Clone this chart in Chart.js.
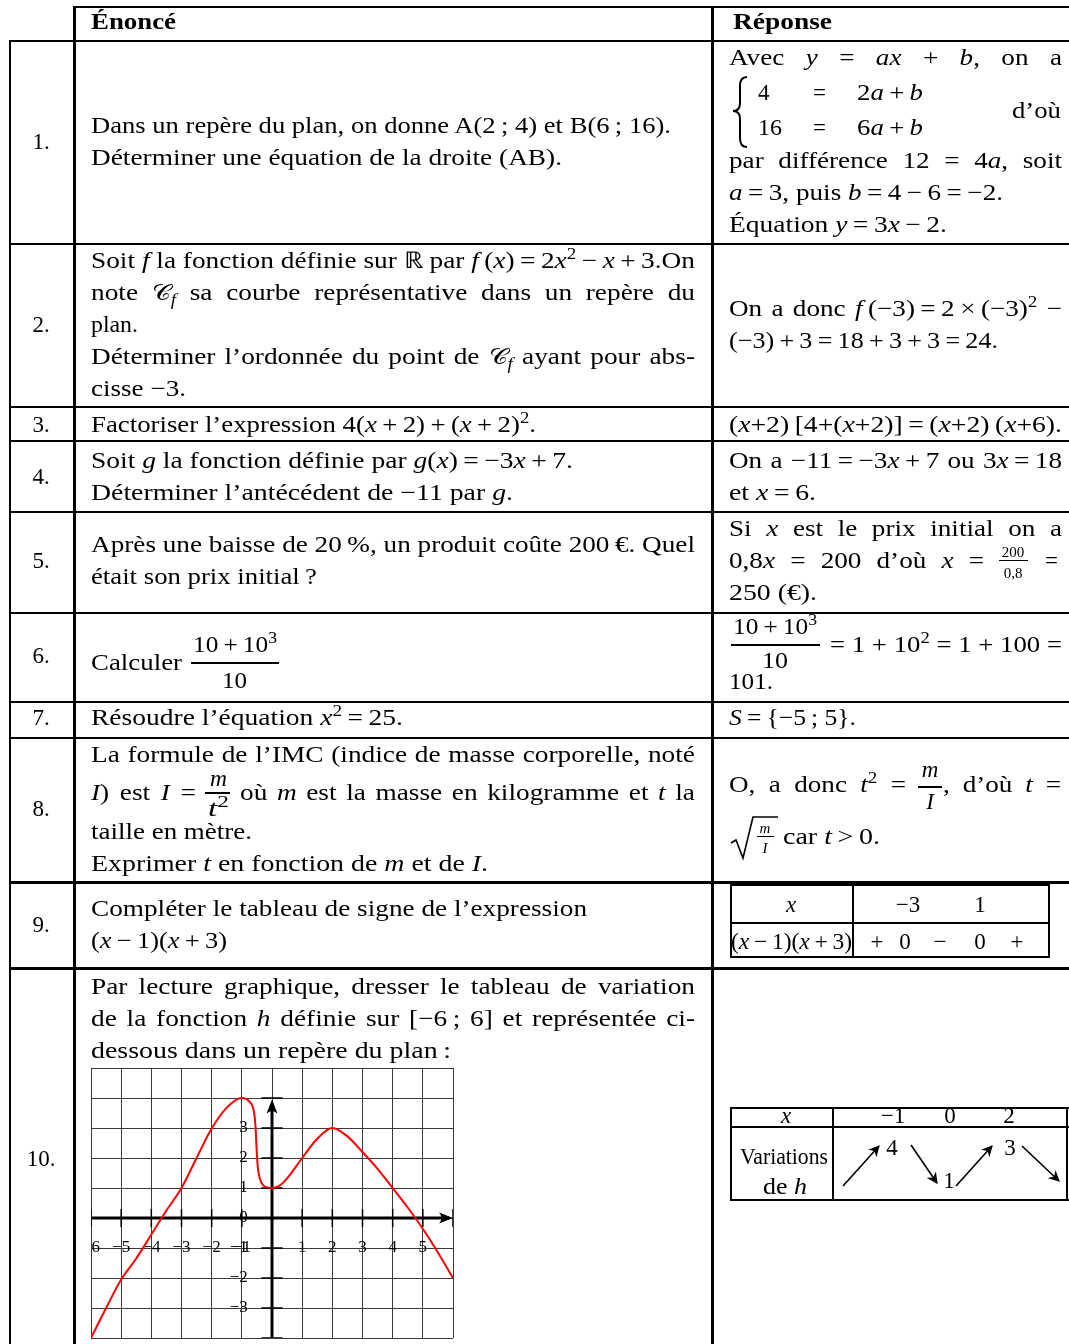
<!DOCTYPE html>
<html><head><meta charset="utf-8">
<script src="https://cdn.jsdelivr.net/npm/chart.js@4.4.1/dist/chart.umd.min.js"></script>
<style>
html,body{margin:0;padding:0;background:#fff;}
body{width:1069px;height:1344px;position:relative;overflow:hidden;font-family:"Liberation Serif",serif;font-size:23px;color:#000;}
.ln{position:absolute;white-space:nowrap;line-height:20px;height:20px;transform-origin:0 50%;display:inline-block;}
.c{position:absolute;white-space:nowrap;line-height:20px;height:20px;transform:translateX(-50%);}
.hl{position:absolute;background:#000;}
.vl{position:absolute;background:#000;}
sup{font-size:0.7em;vertical-align:0;position:relative;top:-0.55em;line-height:0;}
sub{font-size:0.7em;vertical-align:0;position:relative;top:0.3em;line-height:0;}
.scr{font-family:"DejaVu Serif","Noto Sans","DejaVu Sans",serif;font-style:normal;font-size:0.95em;}
.sm{font-size:15px;line-height:14px;height:14px;}
#chartBox{position:absolute;left:90px;top:1067px;width:364px;height:272px;}
svg{position:absolute;left:0;top:0;}
</style></head>
<body>
<div id="chartBox"><canvas id="c" width="364" height="272"></canvas></div>
<svg width="1069" height="1344" id="deco">
  <defs>
    <marker id="ah" viewBox="0 0 10 10" refX="9" refY="5" markerWidth="7" markerHeight="7" orient="auto-start-reverse">
      <path d="M0,0 L10,5 L0,10 L3,5 z" fill="#000"/>
    </marker>
  </defs>
  <path d="M747,77 Q740,77 740,86 L740,103 Q740,111 733,111 Q740,111 740,119 L740,138 Q740,147 747,147" fill="none" stroke="#000" stroke-width="2"/>
  <path d="M731,843 L736,840 L743,858 L753,817 L778,817" fill="none" stroke="#000" stroke-width="1.6"/>
  <line x1="843" y1="1186" x2="879" y2="1146" stroke="#000" stroke-width="1.6" marker-end="url(#ah)"/>
  <line x1="911" y1="1145" x2="937" y2="1183" stroke="#000" stroke-width="1.6" marker-end="url(#ah)"/>
  <line x1="956" y1="1186" x2="992" y2="1146" stroke="#000" stroke-width="1.6" marker-end="url(#ah)"/>
  <line x1="1022" y1="1146" x2="1059" y2="1181" stroke="#000" stroke-width="1.6" marker-end="url(#ah)"/>
</svg>
<script>
// ---------- chart data ----------
const curveX = [-6,-5.5,-5,-4.5,-4,-3.5,-3,-2.5,-2,-1.5,-1,-0.75,-0.6,-0.55,-0.5,-0.46,-0.4,-0.3,-0.15,0,0.25,0.5,1,1.5,2,2.5,3,3.5,4,4.5,5,5.5,6];
const curveY = [-4,-3,-2.05,-1.35,-0.55,0.25,1,2.0,2.98,3.68,4,3.88,3.55,3.1,2.1,1.6,1.3,1.1,1.02,1,1.08,1.32,2.0,2.64,3,2.72,2.2,1.64,1,0.35,-0.36,-1.15,-2];
const xTickLabels = ['−6','−5','−4','−3','−2','−1','1','2','3','4','5'];
const xTickValues = [-6,-5,-4,-3,-2,-1,1,2,3,4,5];
const yTickLabels = ['−3','−2','−1','0','1','2','3'];
const yTickValues = [-3,-2,-1,0,1,2,3];
const xRange = [-6, 6];
const yRange = [-4, 5];

// ---------- table text ----------
const lines = [
 [91,22,85,0,'<b>Énoncé</b>'],
 [733,22,99,0,'<b>Réponse</b>'],
 [91,126,580,0,'Dans un repère du plan, on donne A(2\u2009; 4) et B(6\u2009; 16).'],
 [91,158,471,0,'Déterminer une équation de la droite (AB).'],
 [91,261,604,1,'Soit <i>f</i> la fonction définie sur ℝ par <i>f</i>\u2009(<i>x</i>)\u2009=\u20092<i>x</i><sup>2</sup>\u2009−\u2009<i>x</i>\u2009+\u20093.On'],
 [91,293,604,1,'note <i><span class="scr">𝒞</span><sub>f</sub></i> sa courbe représentative dans un repère du'],
 [91,325,47,0,'plan.'],
 [91,357,604,1,'Déterminer l’ordonnée du point de <i><span class="scr">𝒞</span><sub>f</sub></i> ayant pour abs-'],
 [91,389,95,0,'cisse −3.'],
 [91,425,445,0,'Factoriser l’expression 4(<i>x</i>\u2009+\u20092)\u2009+\u2009(<i>x</i>\u2009+\u20092)<sup>2</sup>.'],
 [91,461,482,0,'Soit <i>g</i> la fonction définie par <i>g</i>(<i>x</i>)\u2009=\u2009−3<i>x</i>\u2009+\u20097.'],
 [91,493,422,0,'Déterminer l’antécédent de −11 par <i>g</i>.'],
 [91,545,604,1,'Après une baisse de 20\u2009%, un produit coûte 200\u2009€. Quel'],
 [91,577,226,0,'était son prix initial\u2009?'],
 [91,663,91,0,'Calculer'],
 [193,645,84,0,'10\u2009+\u200910<sup>3</sup>'],
 [222,681,25,0,'10'],
 [91,718,312,0,'Résoudre l’équation <i>x</i><sup>2</sup>\u2009=\u200925.'],
 [91,755,604,1,'La formule de l’IMC (indice de masse corporelle, noté'],
 [91,793,105,1,'<i>I</i>) est <i>I</i> ='],
 [210,779,17,0,'<i>m</i>'],
 [208,809,21,0,'<i>t</i><sup>2</sup>'],
 [240,793,455,1,'où <i>m</i> est la masse en kilogramme et <i>t</i> la'],
 [91,832,161,0,'taille en mètre.'],
 [91,864,397,0,'Exprimer <i>t</i> en fonction de <i>m</i> et de <i>I</i>.'],
 [91,909,496,0,'Compléter le tableau de signe de l’expression'],
 [91,941,136,0,'(<i>x</i>\u2009−\u20091)(<i>x</i>\u2009+\u20093)'],
 [91,987,604,1,'Par lecture graphique, dresser le tableau de variation'],
 [91,1019,604,1,'de la fonction <i>h</i> définie sur [−6\u2009; 6] et représentée ci-'],
 [91,1051,360,0,'dessous dans un repère du plan\u2009:'],
 // right column
 [729,58,333,1,'Avec <i>y</i> = <i>ax</i> + <i>b</i>, on a'],
 [758,93,0,0,'4'],[813,93,0,0,'='],[857,93,66,0,'2<i>a</i>\u2009+\u2009<i>b</i>'],
 [758,128,24,0,'16'],[813,128,0,0,'='],[857,128,66,0,'6<i>a</i>\u2009+\u2009<i>b</i>'],
 [1012,111,49,0,'d’où'],
 [729,161,333,1,'par différence 12 = 4<i>a</i>, soit'],
 [729,193,274,0,'<i>a</i>\u2009=\u20093, puis <i>b</i>\u2009=\u20094\u2009−\u20096\u2009=\u2009−2.'],
 [729,225,218,0,'Équation <i>y</i>\u2009=\u20093<i>x</i>\u2009−\u20092.'],
 [729,309,333,1,'On a donc <i>f</i>\u2009(−3)\u2009=\u20092\u2009×\u2009(−3)<sup>2</sup> −'],
 [729,341,269,0,'(−3)\u2009+\u20093\u2009=\u200918\u2009+\u20093\u2009+\u20093\u2009=\u200924.'],
 [729,425,333,0,'(<i>x</i>+2)\u2009[4+(<i>x</i>+2)]\u2009=\u2009(<i>x</i>+2)\u2009(<i>x</i>+6).'],
 [729,461,333,1,'On a −11\u2009=\u2009−3<i>x</i>\u2009+\u20097 ou 3<i>x</i>\u2009=\u200918'],
 [729,493,87,0,'et <i>x</i>\u2009=\u20096.'],
 [729,529,333,1,'Si <i>x</i> est le prix initial on a'],
 [729,561,255,1,'0,8<i>x</i> = 200 d’où <i>x</i> ='],
 [1045,561,0,0,'='],
 [729,593,88,0,'250 (€).'],
 [733,627,84,0,'10\u2009+\u200910<sup>3</sup>'],
 [830,645,232,1,'= 1 + 10<sup>2</sup> = 1 + 100 ='],
 [762,661,26,0,'10'],
 [729,682,44,0,'101.'],
 [729,718,127,0,'<i>S</i>\u2009=\u2009{−5\u2009; 5}.'],
 [729,785,177,1,'O, a donc <i>t</i><sup>2</sup> ='],
 [943,785,118,1,', d’où <i>t</i> ='],
 [783,837,97,0,'car <i>t</i>\u2009>\u20090.'],
 [731,942,121,0,'(<i>x</i>\u2009−\u20091)(<i>x</i>\u2009+\u20093)'],
 [740,1157,88,0,'Variations'],
 [763,1187,44,0,'de <i>h</i>']
];
const centered = [
 [41,142,'1.'],[41,325,'2.'],[41,425,'3.'],[41,477,'4.'],[41,561,'5.'],[41,656,'6.'],[41,718,'7.'],[41,809,'8.'],[41,925,'9.'],[41,1159,'10.'],
 [930,770,'<i>m</i>'],[930,802,'<i>I</i>'],
 [791,905,'<i>x</i>'],[908,905,'−3'],[980,905,'1'],
 [877,942,'+'],[905,942,'0'],[940,942,'−'],[980,942,'0'],[1017,942,'+'],
 [786,1116,'<i>x</i>'],[893,1116,'−1'],[950,1116,'0'],[1009,1116,'2'],
 [892,1148,'4'],[949,1181,'1'],[1010,1148,'3']
];
const small = [
 [1013,552,'200'],[1013,573,'0,8'],
 [765,828,'<i>m</i>'],[765,848,'<i>I</i>']
];
const rulesH = [
 [74,6,995,2],[9,40,1060,2],[9,243,1060,2],[9,406,1060,2],[9,440,1060,2],[9,511,1060,2],[9,612,1060,2],[9,701,1060,2],[9,737,1060,2],[9,881,1060,3],[9,967,1060,3],
 [191,662,88,2],[205,792,25,1.5],[731,644,89,2],[918,786,24,1.5],[999,560,29,1],[757,836,17,1],
 [730,884,320,2],[730,922,320,2],[730,956,320,2],
 [730,1107,339,2],[730,1126,339,2],[730,1199,339,2]
];
const rulesV = [
 [9,40,1304,2],[73,6,1338,3],[711,6,1338,3],
 [730,884,74,2],[852,884,74,2],[1048,884,74,2],
 [730,1107,94,2],[832,1107,94,2],[1066,1107,94,2]
];
const body = document.body;
rulesH.forEach(r=>{const d=document.createElement('div');d.className='hl';d.style.cssText=`left:${r[0]}px;top:${r[1]}px;width:${r[2]}px;height:${r[3]}px`;body.appendChild(d);});
rulesV.forEach(r=>{const d=document.createElement('div');d.className='vl';d.style.cssText=`left:${r[0]}px;top:${r[1]}px;height:${r[2]}px;width:${r[3]}px`;body.appendChild(d);});
const made=[];
lines.forEach(l=>{const d=document.createElement('div');d.className='ln';d.style.left=l[0]+'px';d.style.top=(l[1]-10)+'px';d.innerHTML=l[4];body.appendChild(d);made.push([d,l[2],l[3],l[0]]);});
centered.forEach(l=>{const d=document.createElement('div');d.className='c';d.style.left=l[0]+'px';d.style.top=(l[1]-10)+'px';d.innerHTML=l[2];body.appendChild(d);});
small.forEach(l=>{const d=document.createElement('div');d.className='c sm';d.style.left=l[0]+'px';d.style.top=(l[1]-7)+'px';d.innerHTML=l[2];body.appendChild(d);});
function median(a){a=a.slice().sort((p,q)=>p-q);return a.length?a[Math.floor(a.length/2)]:1;}
function fit(){
 const nats=made.map(([d])=>d.getBoundingClientRect().width);
 const kL=[],kR=[];
 made.forEach(([d,w,j,x],i)=>{ if(w>100 && !j){ (x<700?kL:kR).push(w/nats[i]); } });
 const colK={L:median(kL),R:median(kR)};
 made.forEach(([d,w,j,x],i)=>{
  if(!w) return;
  const nat=nats[i];
  if(j){
   const k=Math.min(w/nat, x<700?colK.L:colK.R);
   const n=(d.textContent.match(/ /g)||[]).length;
   if(n>0 && w/k>nat){ d.style.wordSpacing=((w/k-nat)/n)+'px'; d.style.transform='scaleX('+k+')'; return; }
  }
  d.style.transform='scaleX('+(w/nat)+')';
 });
}
if(document.fonts&&document.fonts.ready){document.fonts.ready.then(fit);}else fit();

// ---------- chart ----------
const data = curveX.map((x,i)=>({x:x,y:curveY[i]}));
const decor = {
 id:'decor',
 beforeDatasetsDraw(chart){
  const {ctx,chartArea:a,scales:{x:sx,y:sy}}=chart;
  const px=v=>sx.getPixelForValue(v), py=v=>sy.getPixelForValue(v);
  ctx.save();
  ctx.beginPath();ctx.rect(a.left,a.top,a.right-a.left,a.bottom-a.top);ctx.clip();
  ctx.fillStyle='#000';ctx.strokeStyle='#000';
  ctx.font='17px "Liberation Serif", serif';
  ctx.textBaseline='middle';ctx.textAlign='center';
  xTickValues.forEach((v,i)=>ctx.fillText(xTickLabels[i],px(v),py(-1)));
  ctx.textAlign='right';
  yTickValues.forEach((v,i)=>ctx.fillText(yTickLabels[i],px(-0.8),py(v)));
  ctx.lineWidth=1.5;
  for(let v=xRange[0];v<=xRange[1];v++){ctx.beginPath();ctx.moveTo(px(v),py(0.3));ctx.lineTo(px(v),py(-0.3));ctx.stroke();}
  for(let v=-4;v<=4;v++){ctx.beginPath();ctx.moveTo(px(-0.35),py(v));ctx.lineTo(px(0.35),py(v));ctx.stroke();}
  ctx.lineWidth=3;
  ctx.beginPath();ctx.moveTo(px(xRange[0]),py(0));ctx.lineTo(px(xRange[1])-4,py(0));ctx.stroke();
  ctx.beginPath();ctx.moveTo(px(0),py(yRange[0]));ctx.lineTo(px(0),py(3.95)+4);ctx.stroke();
  let tx=px(xRange[1]), ty=py(0);
  ctx.beginPath();ctx.moveTo(tx,ty);ctx.lineTo(tx-14,ty-5.5);ctx.quadraticCurveTo(tx-9,ty,tx-14,ty+5.5);ctx.closePath();ctx.fill();
  tx=px(0); ty=py(3.95);
  ctx.beginPath();ctx.moveTo(tx,ty);ctx.lineTo(tx-5.5,ty+14);ctx.quadraticCurveTo(tx,ty+9,tx+5.5,ty+14);ctx.closePath();ctx.fill();
  ctx.restore();
 }
};
new Chart(document.getElementById('c'),{
 type:'line',
 data:{datasets:[{data:data,borderColor:'#ff0000',borderWidth:2,pointRadius:0,fill:false,cubicInterpolationMode:'monotone'}]},
 options:{
  responsive:false,animation:false,devicePixelRatio:1,
  layout:{padding:{left:1,right:1,top:1,bottom:1}},
  plugins:{legend:{display:false},tooltip:{enabled:false}},
  scales:{
   x:{type:'linear',min:xRange[0],max:xRange[1],ticks:{display:false,stepSize:1},grid:{color:'#3a3a3a',lineWidth:1,drawTicks:false},border:{display:false}},
   y:{type:'linear',min:yRange[0],max:yRange[1],ticks:{display:false,stepSize:1},grid:{color:'#3a3a3a',lineWidth:1,drawTicks:false},border:{display:false}}
  }
 },
 plugins:[decor]
});
</script>
</body></html>
